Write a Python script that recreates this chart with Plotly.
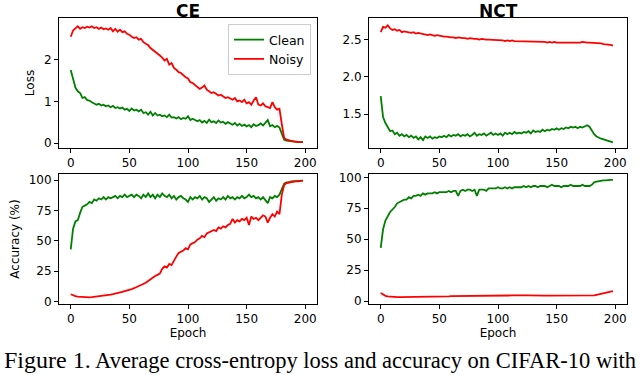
import plotly.graph_objects as go
from plotly.subplots import make_subplots

# epochs sampled every 2
epochs = list(range(0, 200, 2))

ce_loss_clean = [
    1.75, 1.50, 1.33, 1.24, 1.20, 1.08, 1.10, 1.03, 1.02, 0.98,
    0.95, 0.92, 0.94, 0.90, 0.92, 0.88, 0.90, 0.86, 0.89, 0.84,
    0.86, 0.83, 0.85, 0.80, 0.82, 0.77, 0.83, 0.78, 0.80, 0.76,
    0.80, 0.72, 0.74, 0.68, 0.75, 0.66, 0.72, 0.66, 0.68, 0.64,
    0.66, 0.62, 0.68, 0.61, 0.62, 0.59, 0.62, 0.57, 0.60, 0.58,
    0.64, 0.55, 0.58, 0.54, 0.52, 0.55, 0.49, 0.53, 0.48, 0.56,
    0.50, 0.52, 0.48, 0.54, 0.49, 0.51, 0.46, 0.50, 0.47, 0.44,
    0.48, 0.42, 0.46, 0.41, 0.44, 0.40, 0.43, 0.38, 0.45, 0.41,
    0.43, 0.47, 0.42, 0.50, 0.55, 0.40, 0.43, 0.38, 0.41, 0.37,
    0.20, 0.08, 0.06, 0.05, 0.04, 0.03, 0.03, 0.02, 0.02, 0.02]

ce_loss_noisy = [
    2.55, 2.70, 2.75, 2.80, 2.74, 2.78, 2.76, 2.79, 2.77, 2.80,
    2.76, 2.78, 2.74, 2.77, 2.73, 2.75, 2.72, 2.76, 2.68, 2.74,
    2.67, 2.72, 2.66, 2.68, 2.62, 2.60, 2.55, 2.52, 2.54, 2.48,
    2.50, 2.42, 2.38, 2.35, 2.28, 2.24, 2.18, 2.16, 2.10, 2.05,
    1.98, 2.02, 1.88, 1.92, 1.80, 1.76, 1.70, 1.68, 1.62, 1.58,
    1.55, 1.46, 1.44, 1.40, 1.36, 1.30, 1.33, 1.38, 1.28, 1.25,
    1.20, 1.22, 1.18, 1.14, 1.16, 1.12, 1.08, 1.10, 1.06, 1.04,
    1.08, 1.00, 1.02, 0.98, 1.04, 0.95, 0.98, 0.92, 1.02, 1.10,
    0.92, 0.90, 0.95, 0.88, 0.86, 0.84, 0.98, 0.86, 0.80, 0.82,
    0.45, 0.12, 0.08, 0.06, 0.05, 0.04, 0.03, 0.03, 0.02, 0.02]

nct_loss_clean = [
    1.74, 1.46, 1.38, 1.32, 1.27, 1.28, 1.23, 1.25, 1.21, 1.23,
    1.20, 1.22, 1.19, 1.21, 1.18, 1.20, 1.16, 1.19, 1.15, 1.20,
    1.18, 1.20, 1.17, 1.19, 1.18, 1.20, 1.19, 1.21, 1.19, 1.22,
    1.20, 1.22, 1.21, 1.23, 1.20, 1.22, 1.21, 1.23, 1.20, 1.22,
    1.25, 1.21, 1.23, 1.22, 1.24, 1.21, 1.23, 1.25, 1.22, 1.24,
    1.22, 1.24, 1.21, 1.25, 1.23, 1.25, 1.23, 1.26, 1.24, 1.25,
    1.24, 1.26, 1.25, 1.27, 1.24, 1.28, 1.26, 1.27, 1.26, 1.29,
    1.27, 1.29, 1.28, 1.30, 1.29, 1.31, 1.29, 1.31, 1.30, 1.32,
    1.31, 1.33, 1.32, 1.33, 1.31, 1.33, 1.32, 1.34, 1.35, 1.33,
    1.28, 1.23, 1.20, 1.18, 1.17, 1.16, 1.15, 1.14, 1.13, 1.12]

nct_loss_noisy = [
    2.60, 2.67, 2.66, 2.69, 2.65, 2.63, 2.64, 2.62, 2.63, 2.60,
    2.61, 2.60, 2.60, 2.59, 2.60, 2.58, 2.59, 2.58, 2.57, 2.57,
    2.56, 2.57, 2.56, 2.55, 2.56, 2.55, 2.55, 2.54, 2.54, 2.53,
    2.53, 2.53, 2.52, 2.53, 2.52, 2.52, 2.52, 2.51, 2.52, 2.51,
    2.51, 2.51, 2.50, 2.51, 2.50, 2.50, 2.50, 2.50, 2.50, 2.49,
    2.50, 2.49, 2.49, 2.48, 2.49, 2.48, 2.49, 2.48, 2.48, 2.48,
    2.48, 2.47, 2.48, 2.47, 2.48, 2.47, 2.47, 2.47, 2.47, 2.47,
    2.47, 2.46, 2.47, 2.46, 2.47, 2.46, 2.46, 2.46, 2.46, 2.46,
    2.46, 2.46, 2.45, 2.46, 2.46, 2.46, 2.47, 2.46, 2.46, 2.46,
    2.46, 2.46, 2.45, 2.45, 2.45, 2.44, 2.44, 2.44, 2.43, 2.42]

ce_acc_clean = [
    43, 60, 66, 67, 73, 78, 79, 80, 82, 81,
    84, 83, 85, 84, 86, 84, 86, 85, 86, 87,
    85, 87, 86, 88, 86, 87, 88, 86, 88, 87,
    85, 88, 86, 89, 86, 88, 85, 88, 86, 89,
    87, 86, 88, 85, 87, 84, 86, 87, 85, 84,
    82, 86, 84, 86, 85, 87, 84, 86, 85, 82,
    84, 86, 83, 85, 84, 86, 84, 87, 85, 86,
    84, 86, 85, 87, 85, 86, 88, 86, 87, 85,
    86, 84, 86, 83, 81, 86, 85, 87, 86, 88,
    92, 97, 98, 98, 99, 99, 99, 99, 99.5, 99.5]

ce_acc_noisy = [
    6, 5, 4.5, 4, 3.8, 3.5, 3.4, 3.3, 3.5, 3.6,
    3.8, 4, 4.3, 4.5, 4.8, 5, 5.4, 5.8, 6.2, 6.5,
    7, 7.5, 8, 8.6, 9, 9.5, 10.3, 11, 11.8, 12.5,
    13.5, 14.5, 15.5, 17, 18.5, 20, 21, 22, 23, 27,
    29, 28, 31, 30, 34, 37, 40, 41, 42, 44,
    43, 47, 48, 49, 51, 52, 54, 53, 56, 57,
    58, 59, 58, 61, 60, 62, 61, 63, 64, 68,
    65, 67, 66, 68, 67, 69, 63, 70, 68, 69,
    67, 69, 71, 70, 65, 69, 72, 70, 74, 72,
    88, 96, 97.5, 98, 98.5, 99, 99, 99, 99.3, 99.5]

nct_acc_clean = [
    43, 58, 65, 69, 72, 74, 76, 79, 80, 81,
    82, 82, 84, 83, 85, 85, 86, 85, 87, 86,
    87, 87, 87, 88, 87, 88, 88, 88, 88, 89,
    88, 89, 89, 85, 89, 90, 89, 90, 90, 89,
    90, 85, 90, 90, 90, 89, 91, 91, 91, 91,
    92, 91, 91, 92, 91, 92, 91, 92, 92, 92,
    92, 93, 92, 93, 92, 93, 93, 92, 93, 93,
    93, 92, 93, 94, 93, 93, 93, 92, 93, 93,
    93, 94, 93, 93, 93, 93, 94, 93, 93, 93,
    94, 96, 96.5, 97, 97, 97.5, 97.5, 98, 98, 98]

nct_acc_noisy = [
    6.5, 5, 4.2, 3.8, 3.5, 3.4, 3.3, 3.2, 3.2, 3.2,
    3.3, 3.2, 3.3, 3.3, 3.4, 3.3, 3.4, 3.4, 3.5, 3.5,
    3.5, 3.6, 3.6, 3.6, 3.7, 3.7, 3.7, 3.8, 3.8, 3.8,
    3.9, 3.9, 3.9, 4.0, 4.0, 4.0, 4.1, 4.1, 4.1, 4.2,
    4.2, 4.2, 4.2, 4.3, 4.3, 4.3, 4.3, 4.4, 4.4, 4.4,
    4.4, 4.5, 4.4, 4.5, 4.5, 4.5, 4.5, 4.6, 4.5, 4.6,
    4.6, 4.6, 4.6, 4.6, 4.5, 4.6, 4.5, 4.5, 4.5, 4.5,
    4.4, 4.4, 4.4, 4.4, 4.3, 4.3, 4.3, 4.3, 4.2, 4.2,
    4.2, 4.1, 4.1, 4.1, 4.0, 4.0, 4.0, 4.0, 4.0, 4.0,
    4.2, 4.6, 5.0, 5.4, 5.8, 6.2, 6.6, 7.0, 7.5, 8.0]

x_ticks = [0, 50, 100, 150, 200]
GREEN = "#008000"
RED = "#ff0000"
FONT = "DejaVu Sans"

fig = make_subplots(rows=2, cols=2)

panels = [
    (1, 1, ce_loss_clean, ce_loss_noisy),
    (1, 2, nct_loss_clean, nct_loss_noisy),
    (2, 1, ce_acc_clean, ce_acc_noisy),
    (2, 2, nct_acc_clean, nct_acc_noisy),
]
for i, (r, c, clean, noisy) in enumerate(panels):
    fig.add_trace(go.Scatter(x=epochs, y=clean, mode="lines", name="Clean",
                             line=dict(color=GREEN, width=1.8),
                             showlegend=(i == 0)), row=r, col=c)
    fig.add_trace(go.Scatter(x=epochs, y=noisy, mode="lines", name="Noisy",
                             line=dict(color=RED, width=1.8),
                             showlegend=(i == 0)), row=r, col=c)

axis_style = dict(showline=True, mirror=True, linecolor="black", linewidth=1,
                  ticks="outside", ticklen=4, tickwidth=1, tickcolor="black",
                  showgrid=False, zeroline=False, automargin=False,
                  tickfont=dict(family=FONT, size=12, color="black"))

col_dom = [[59 / 640, 317 / 640], [369 / 640, 627 / 640]]
row_dom = [[1 - 148 / 375, 1 - 18 / 375], [1 - 304 / 375, 1 - 174 / 375]]
y_ranges = [[-0.12, 3.0], [1.045, 2.79], [-2, 105], [-2.4, 102.7]]
y_ticks = [[0, 1, 2], [1.5, 2.0, 2.5], [0, 25, 50, 75, 100], [0, 25, 50, 75, 100]]
y_text = [["0", "1", "2"], ["1.5", "2.0", "2.5"],
          ["0", "25", "50", "75", "100"], ["0", "25", "50", "75", "100"]]

for k in range(4):
    r, c = k // 2, k % 2
    fig.update_xaxes(domain=col_dom[c], range=[-10, 210], tickvals=x_ticks,
                     row=r + 1, col=c + 1, **axis_style)
    fig.update_yaxes(domain=row_dom[r], range=y_ranges[k], tickvals=y_ticks[k],
                     ticktext=y_text[k], row=r + 1, col=c + 1, **axis_style)

lab = dict(family=FONT, size=12, color="black")
fig.update_xaxes(title=dict(text="Epoch", font=lab, standoff=2), row=2, col=1)
fig.update_xaxes(title=dict(text="Epoch", font=lab, standoff=2), row=2, col=2)
fig.update_yaxes(title=dict(text="Loss", font=lab, standoff=6), row=1, col=1)
fig.update_yaxes(title=dict(text="Accuracy (%)", font=lab, standoff=6), row=2, col=1)

title_font = dict(family=FONT, size=17, color="black")
fig.add_annotation(text="<b>CE</b>", x=188 / 640, y=1, xref="paper", yref="paper",
                   showarrow=False, font=title_font, xanchor="center", yanchor="top",
                   borderpad=0)
fig.add_annotation(text="<b>NCT</b>", x=498 / 640, y=1, xref="paper", yref="paper",
                   showarrow=False, font=title_font, xanchor="center", yanchor="top",
                   borderpad=0)

fig.add_annotation(
    text="<span style='font-size:24px'>Figure 1.</span> Average cross-entropy loss and accuracy on CIFAR-10 with",
    x=2 / 640, y=0.5 / 375, xref="paper", yref="paper", showarrow=False,
    xanchor="left", yanchor="bottom",
    font=dict(family="Liberation Serif", size=22.5, color="black"))

fig.update_layout(
    width=640, height=375,
    margin=dict(l=0, r=0, t=0, b=0),
    plot_bgcolor="white", paper_bgcolor="white",
    legend=dict(x=311 / 640, y=1 - 24 / 375, xanchor="right", yanchor="top",
                bordercolor="#cccccc", borderwidth=1, bgcolor="white",
                font=dict(family=FONT, size=12.5, color="black"),
                itemwidth=30, tracegroupgap=0),
)

fig.write_html("out.html", config={"displayModeBar": False},
               post_script="document.body.style.margin='0';")
